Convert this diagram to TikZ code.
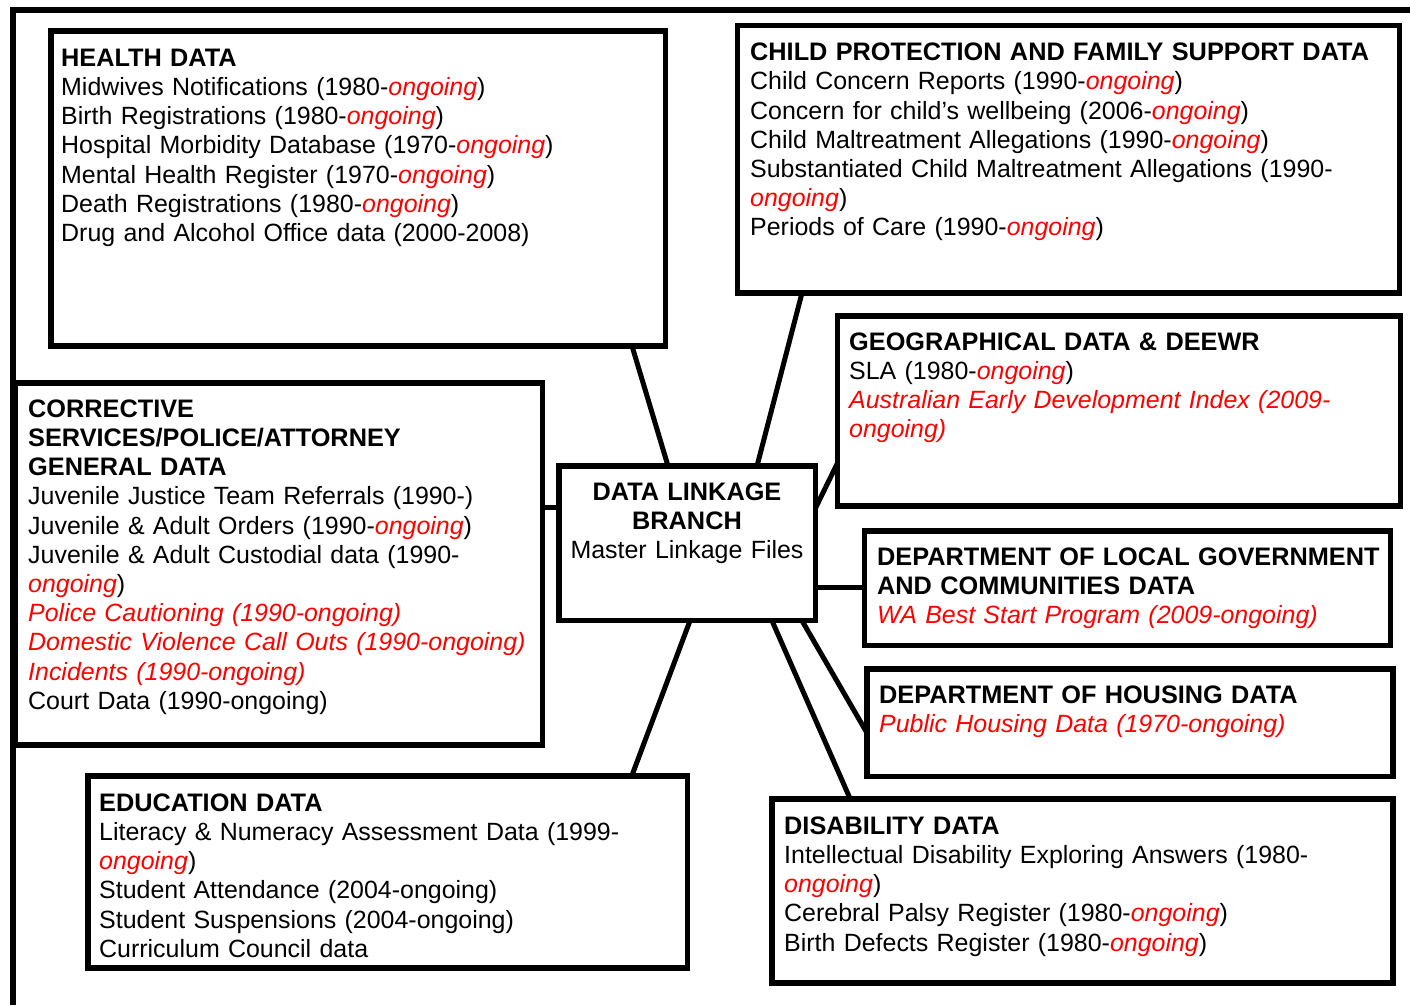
\documentclass[tikz,border=0pt]{standalone}
\usepackage{fontspec}
\setmainfont{Liberation Sans}
\usetikzlibrary{calc}
\definecolor{ogred}{RGB}{255,0,0}
\newcommand{\og}{\textcolor{ogred}{\itshape ongoing}}
\newcommand{\rt}[1]{\textcolor{ogred}{\itshape #1}}
\newcommand{\hd}[1]{{\fontsize{25.3pt}{29.2pt}\selectfont\bfseries #1}}
\begin{document}
\begin{tikzpicture}[x=1pt,y=-1pt,
  box/.style={draw, line width=5.5pt, rectangle, inner sep=0pt, outer sep=0pt, anchor=north west},
  txt/.style={anchor=north west, inner sep=0pt, text width=680pt, align=left},
  ctxt/.style={anchor=north, inner sep=0pt, text width=256pt, align=center},
  link/.style={line width=5pt},
  font=\fontsize{24.95pt}{29.2pt}\selectfont]
\useasboundingbox (0,0) rectangle (1410,1005);
% outer frame (clipped by the page)
\draw[line width=5.5pt] (13,1005) -- (13,10) -- (1410,10);

% boxes
\node[box, minimum width=614.5pt, minimum height=315pt] (health) at (51,31) {};
\node[box, minimum width=662pt, minimum height=267.5pt] (child) at (737.5,25.5) {};
\node[box, minimum width=563pt, minimum height=190pt] (geo) at (837.5,316) {};
\node[box, minimum width=527.5pt, minimum height=362pt] (corr) at (15,383) {};
\node[box, minimum width=256.5pt, minimum height=154.5pt] (center) at (559,466) {};
\node[box, minimum width=526pt, minimum height=114.5pt] (lg) at (864.5,531) {};
\node[box, minimum width=526pt, minimum height=107.5pt] (housing) at (867,669) {};
\node[box, minimum width=621pt, minimum height=184pt] (dis) at (772,799) {};
\node[box, minimum width=599.5pt, minimum height=192pt] (edu) at (88,776) {};

% texts
\node[txt] (healthT) at (61,45.56) {\strut\hd{HEALTH DATA}\\
Midwives Notifications (1980-\og)\\
Birth Registrations (1980-\og)\\
Hospital Morbidity Database (1970-\og)\\
Mental Health Register (1970-\og)\\
Death Registrations (1980-\og)\\
Drug and Alcohol Office data (2000-2008)};

\node[txt] (childT) at (750,40.06) {\strut\hd{CHILD PROTECTION AND FAMILY SUPPORT DATA}\\
Child Concern Reports (1990-\og)\\
Concern for child’s wellbeing (2006-\og)\\
Child Maltreatment Allegations (1990-\og)\\
Substantiated Child Maltreatment Allegations (1990-\\
\og)\\
Periods of Care (1990-\og)};

\node[txt] (geoT) at (849,329.56) {\strut\hd{GEOGRAPHICAL DATA \& DEEWR}\\
SLA (1980-\og)\\
\rt{Australian Early Development Index (2009-}\\
\rt{ongoing)}};

\node[txt] (corrT) at (28,396.56) {\strut\hd{CORRECTIVE}\\
\hd{SERVICES/POLICE/ATTORNEY}\\
\hd{GENERAL DATA}\\
Juvenile Justice Team Referrals (1990-)\\
Juvenile \& Adult Orders (1990-\og)\\
Juvenile \& Adult Custodial data (1990-\\
\og)\\
\rt{Police Cautioning (1990-ongoing)}\\
\rt{Domestic Violence Call Outs (1990-ongoing)}\\
\rt{Incidents (1990-ongoing)}\\
Court Data (1990-ongoing)};

\node[ctxt] (centerT) at (687,479.56) {\strut\hd{DATA LINKAGE}\\
\hd{BRANCH}\\
Master Linkage Files};

\node[txt] (lgT) at (877,544.56) {\strut\hd{DEPARTMENT OF LOCAL GOVERNMENT}\\
\hd{AND COMMUNITIES DATA}\\
\rt{WA Best Start Program (2009-ongoing)}};

\node[txt] (housingT) at (879,682.56) {\strut\hd{DEPARTMENT OF HOUSING DATA}\\
\rt{Public Housing Data (1970-ongoing)}};

\node[txt] (eduT) at (99,790.56) {\strut\hd{EDUCATION DATA}\\
Literacy \& Numeracy Assessment Data (1999-\\
\og)\\
Student Attendance (2004-ongoing)\\
Student Suspensions (2004-ongoing)\\
Curriculum Council data};

\node[txt] (disT) at (784,813.56) {\strut\hd{DISABILITY DATA}\\
Intellectual Disability Exploring Answers (1980-\\
\og)\\
Cerebral Palsy Register (1980-\og)\\
Birth Defects Register (1980-\og)};

% connectors
\draw[link] ($(health.south west)!0.9455!(health.south east)$) -- ($(center.north west)!0.425!(center.north east)$);
\draw[link] ($(child.south west)!0.0974!(child.south east)$) -- ($(center.north west)!0.772!(center.north east)$);
\draw[link] ($(geo.north west)!0.774!(geo.south west)$) -- ($(center.north east)!0.272!(center.south east)$);
\coordinate (lgL) at ($(lg.north west)!0.489!(lg.south west)$);
\draw[link] (lgL) -- (lgL -| center.east);
\coordinate (corrR) at ($(corr.north east)!0.345!(corr.south east)$);
\draw[link] (corrR) -- (corrR -| center.west);
\draw[link] ($(center.south west)!0.947!(center.south east)$) -- ($(housing.north west)!0.595!(housing.south west)$);
\draw[link] ($(center.south west)!0.83!(center.south east)$) -- ($(dis.north west)!0.126!(dis.north east)$);
\draw[link] ($(center.south west)!0.511!(center.south east)$) -- ($(edu.north west)!0.907!(edu.north east)$);
\end{tikzpicture}
\end{document}
